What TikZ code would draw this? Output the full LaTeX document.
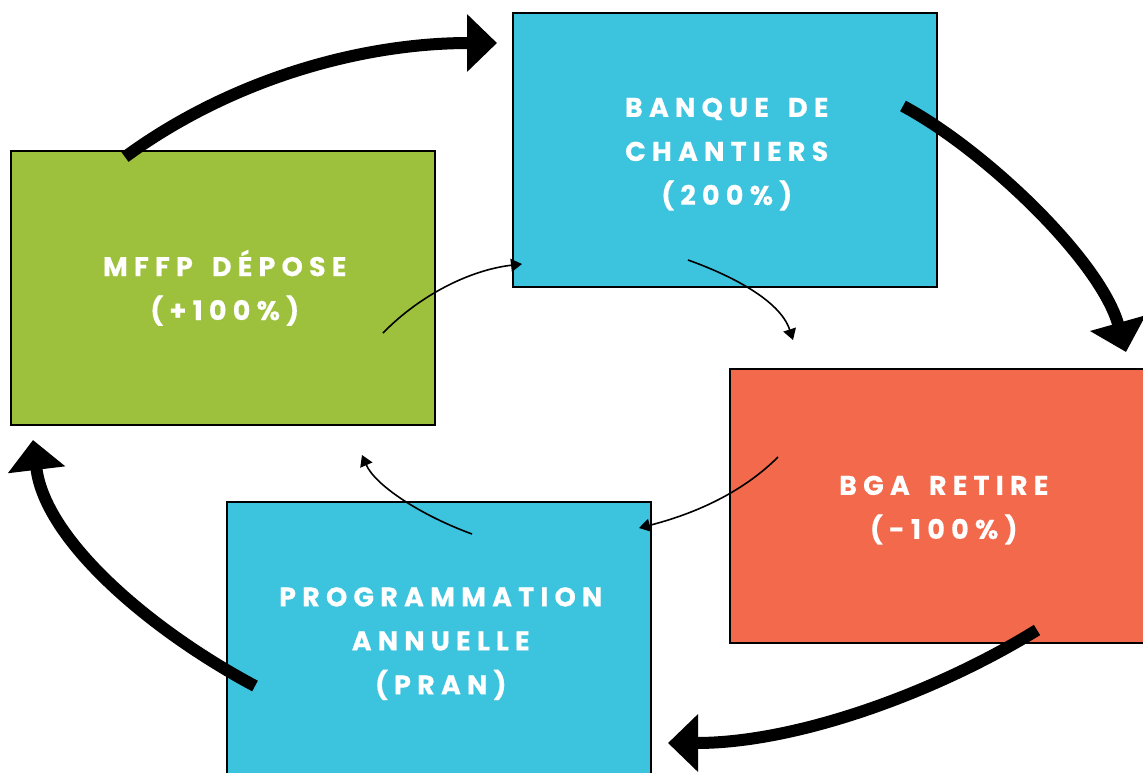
\documentclass[tikz,border=0pt]{standalone}
\usepackage{fontspec}
\setmainfont{Poppins}
\newfontfamily\boxfont[LetterSpace=23,WordSpace=1.6,BoldFeatures={FakeBold=0.4}]{Poppins}
\usetikzlibrary{arrows.meta}
\definecolor{boxgreen}{RGB}{157,193,60}
\definecolor{boxblue}{RGB}{60,195,222}
\definecolor{boxred}{RGB}{242,105,76}
\newcommand\lineA[1]{\hspace*{4pt}\rule{0pt}{#1pt}}
\tikzset{
  stagebox/.style={draw=black, line width=1.5pt, minimum width=424pt, minimum height=274pt,
    anchor=north west, inner sep=0pt, align=center, text=white,
    font=\boxfont\bfseries\fontsize{27}{44}\selectfont},
  bigarrow/.style={line width=12pt, -{Triangle[length=30pt,width=56pt]}},
  smallarrow/.style={line width=1.6pt, -{Triangle[length=11pt,width=13pt]}}
}
\begin{document}
\begin{tikzpicture}[x=1pt,y=-1pt]
\useasboundingbox (0,0) rectangle (1143,772);
\clip (0,0) rectangle (1143,772);
\node[stagebox, fill=boxgreen] (mffp) at (10,150) {\hspace*{4pt}MFFP DÉPOSE\\\hspace*{4pt}(+100\%)};
\node[stagebox, fill=boxblue] (banque) at (512,12) {\lineA{28}BANQUE DE\\\hspace*{4pt}CHANTIERS\\\hspace*{4pt}(200\%)};
\node[stagebox, fill=boxred] (bga) at (729,368) {\lineA{28}BGA RETIRE\\\hspace*{4pt}(-100\%)};
\node[stagebox, fill=boxblue] (pran) at (226,501) {\lineA{29}PROGRAMMATION\\\hspace*{4pt}ANNUELLE\\\hspace*{4pt}(PRAN)};
% thick cycle arrows
\coordinate (t1s) at (125,157); \coordinate (t1e) at (497,43);
\coordinate (t2s) at (903,106); \coordinate (t2e) at (1126,352);
\coordinate (t3s) at (1037,630); \coordinate (t3e) at (668,743);
\coordinate (t4s) at (255,686); \coordinate (t4e) at (33,440);
\draw[bigarrow] (t1s) .. controls (230,80) and (360,43) .. (t1e);
\draw[bigarrow] (t2s) .. controls (985,150) and (1100,260) .. (t2e);
\draw[bigarrow] (t3s) .. controls (940,690) and (800,743) .. (t3e);
\draw[bigarrow] (t4s) .. controls (150,630) and (45,540) .. (t4e);
% thin inner arrows
\coordinate (s1s) at (383,333); \coordinate (s1e) at (522,264);
\coordinate (s2s) at (688,260); \coordinate (s2e) at (793,340);
\coordinate (s3s) at (778,457); \coordinate (s3e) at (639,528);
\coordinate (s4s) at (472,534); \coordinate (s4e) at (362,455);
\draw[smallarrow] (s1s) .. controls (420,295) and (470,270) .. (s1e);
\draw[smallarrow] (s2s) .. controls (730,275) and (780,300) .. (s2e);
\draw[smallarrow] (s3s) .. controls (740,495) and (690,515) .. (s3e);
\draw[smallarrow] (s4s) .. controls (420,515) and (375,485) .. (s4e);
\end{tikzpicture}
\end{document}
